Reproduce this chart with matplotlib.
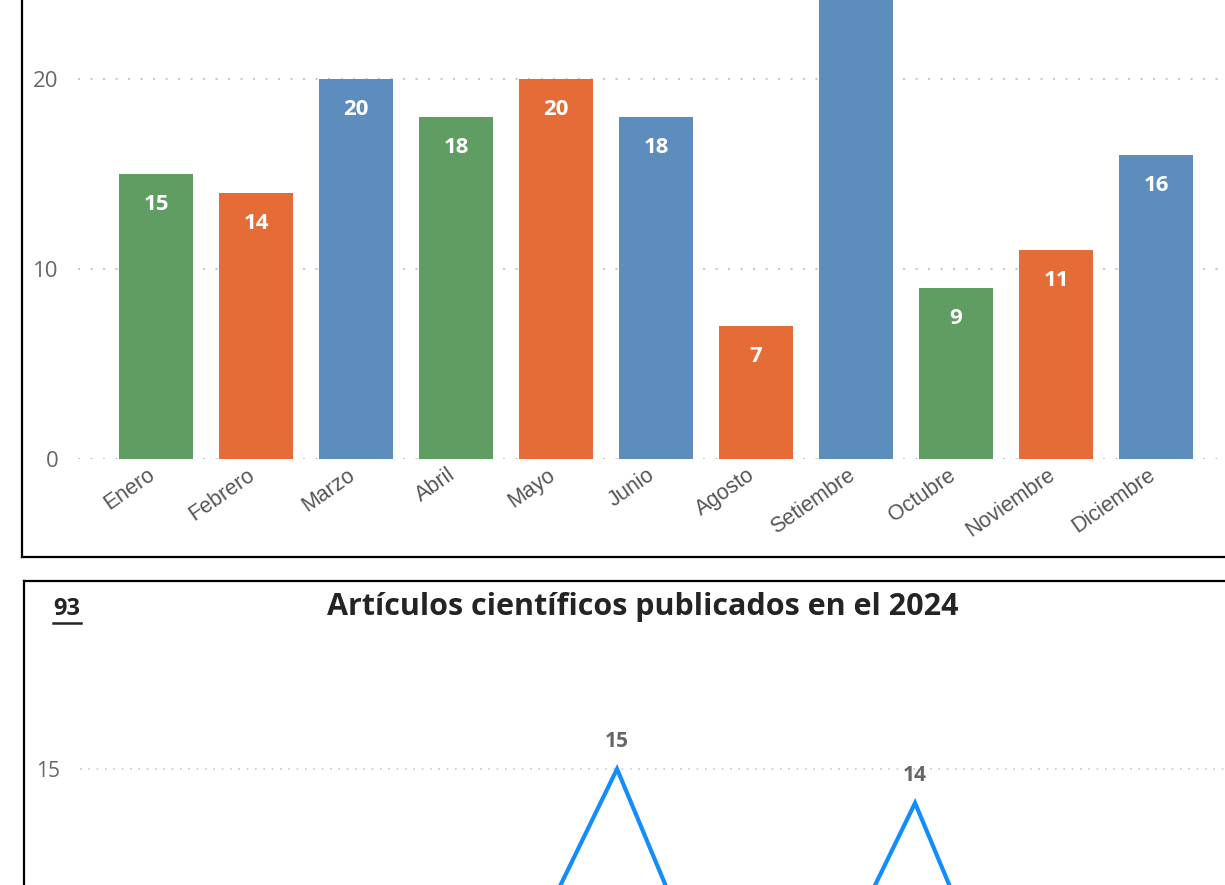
import matplotlib.pyplot as plt
from matplotlib.lines import Line2D

# monthly counts (bar chart, top panel)
meses = ["Enero", "Febrero", "Marzo", "Abril", "Mayo", "Junio", "Agosto",
         "Setiembre", "Octubre", "Noviembre", "Diciembre"]
cantidades = [15, 14, 20, 18, 20, 18, 7, 30, 9, 11, 16]
colores = ["#5F9D62", "#E56C37", "#5C8DBD", "#5F9D62", "#E56C37", "#5C8DBD",
           "#E56C37", "#5C8DBD", "#5F9D62", "#E56C37", "#5C8DBD"]

# articles published in 2024 (line chart, bottom panel)
meses_2024 = ["Enero", "Febrero", "Marzo", "Abril", "Mayo", "Junio", "Julio",
              "Agosto", "Setiembre", "Octubre", "Noviembre", "Diciembre"]
articulos = [6, 8, 5, 7, 9, 15, 8, 8, 14, 7, 3, 3]
total_articulos = 93

W, H = 1225, 885
fig = plt.figure(figsize=(W / 100, H / 100), dpi=100)


def caja(left, top, right, bottom):
    return [left / W, 1 - bottom / H, (right - left) / W, (bottom - top) / H]


def fx(x):
    return x / W


def fy(y):
    return 1 - y / H


grid_col = "#C8C8C8"

# ---- top panel: bars
ax1 = fig.add_axes(caja(78, 459 - 35 * 19, 1225, 459))
x = list(range(len(meses)))
ax1.bar(x, cantidades, width=0.74, color=colores, zorder=2)
for i, v in enumerate(cantidades):
    ax1.text(i, v - 1.58, str(v), ha="center", va="center", color="white",
             fontsize=16, fontweight="bold", family="Open Sans", zorder=3)
ax1.set_xlim(-0.78, 10.69)
ax1.set_ylim(0, 35)
ax1.set_yticks([0, 10, 20])
# labels end a little left of the bar centre
ax1.set_xticks([i - 0.09 for i in x])
ax1.set_xticklabels(meses, rotation=35, ha="right", va="top",
                    rotation_mode="anchor", family="Liberation Sans",
                    fontsize=15.5, color="#555555")
for lbl in ax1.get_yticklabels():
    lbl.set_family("Open Sans")
ax1.tick_params(axis="y", length=0, pad=14, labelsize=16, labelcolor="#666666")
ax1.tick_params(axis="x", length=0, pad=4)
ax1.grid(axis="y", color=grid_col, lw=1.5, linestyle=(0, (1, 5)), zorder=0)
for s in ax1.spines.values():
    s.set_visible(False)

# ---- bottom panel: line
ax2 = fig.add_axes(caja(80, 769 - 3 * 34, 1225, 769 + 15 * 34))
xs = list(range(len(meses_2024)))
ax2.plot(xs, articulos, color="#118DFF", lw=3, zorder=3, solid_joinstyle="miter")
for i, v in enumerate(articulos):
    ax2.annotate(str(v), (i, v), xytext=(0, 20), textcoords="offset points",
                 ha="center", va="center", fontsize=15, fontweight="bold",
                 color="#666666", family="Open Sans")
ax2.set_xlim(-0.406, 11.12)
ax2.set_ylim(0, 18)
ax2.set_yticks([0, 5, 10, 15])
ax2.set_xticks(xs)
for lbl in ax2.get_yticklabels():
    lbl.set_family("Open Sans")
ax2.tick_params(axis="y", length=0, pad=14, labelsize=15, labelcolor="#666666")
ax2.tick_params(axis="x", length=0, labelbottom=False)
ax2.grid(axis="y", color=grid_col, lw=1.2, linestyle=(0, (1, 4)), zorder=0)
for s in ax2.spines.values():
    s.set_visible(False)

# panel frames
lw = 1.6
fig.add_artist(Line2D([fx(22), fx(22)], [fy(0), fy(557)], color="black", lw=lw))
fig.add_artist(Line2D([fx(22), fx(1225)], [fy(557), fy(557)], color="black", lw=lw))
fig.add_artist(Line2D([fx(24), fx(1225)], [fy(581), fy(581)], color="black", lw=lw))
fig.add_artist(Line2D([fx(24), fx(24)], [fy(581), fy(885)], color="black", lw=lw))

# title and total
fig.text(fx(643), fy(607), "Artículos científicos publicados en el 2024",
         ha="center", va="center", fontsize=22, fontweight="bold",
         color="#252423", family="Open Sans")
fig.text(fx(67), fy(609), str(total_articulos), ha="center", va="center",
         fontsize=17, fontweight="bold", color="#252423", family="Open Sans")
fig.add_artist(Line2D([fx(53), fx(81)], [fy(623), fy(623)], color="#252423", lw=1.8))

fig.savefig("out.png", dpi=100)
